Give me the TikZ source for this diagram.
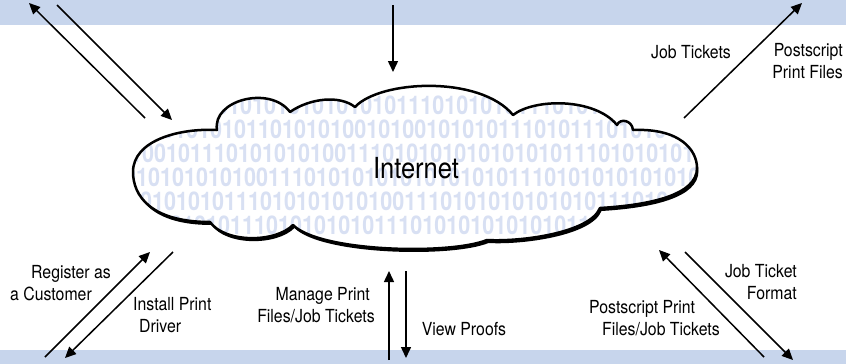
\documentclass[tikz,border=0pt]{standalone}
\usepackage{fontspec}
\setmainfont{TeX Gyre Heros}[FakeStretch=0.88]
\newfontfamily\digfont{TeX Gyre Heros}[FakeStretch=0.84]
\usetikzlibrary{arrows.meta}
\definecolor{band}{HTML}{C7D5EC}
\definecolor{digit}{HTML}{D8E0F3}
\def\cloudpath{(217,130) .. controls (212,100) and (270,85) .. (290,112)
  .. controls (310,98) and (340,95) .. (355,107)
  .. controls (380,80) and (480,75) .. (513,115)
  .. controls (535,98) and (595,98) .. (617,125)
  .. controls (620,118) and (632,120) .. (633,130)
  .. controls (680,128) and (697,150) .. (697,168)
  .. controls (697,195) and (650,205) .. (600,208)
  .. controls (590,233) and (520,242) .. (487,240)
  .. controls (450,255) and (320,252) .. (293,225)
  .. controls (275,243) and (225,243) .. (210,222)
  .. controls (150,222) and (133,195) .. (133,172)
  .. controls (133,140) and (180,128) .. (217,130) -- cycle}
\begin{document}
\begin{tikzpicture}[x=1pt,y=-1pt,
  flow/.style={line width=1.5pt, -{Triangle[length=11pt,width=10pt]}},
  lbl/.style={font=\fontsize{18}{22.5}\selectfont, inner sep=0pt},
  digits/.style={font=\digfont\bfseries\fontsize{25.7}{25.7}\selectfont, text=digit, inner sep=0pt, anchor=base west}]
\useasboundingbox (0,0) rectangle (846,364);
\fill[band] (0,0) rectangle (846,25);
\fill[band] (0,350) rectangle (846,364);
% cloud
\fill[black, shift={(1.5,3)}] \cloudpath;
\fill[white] \cloudpath;
\begin{scope}
\clip \cloudpath;
\node[digits] (r1) at (120,114) {0101011101010101010101011101010101110101010101010};
\node[digits] (r2) at (126,138) {1000101010110101010010100101010111010111010101010};
\node[digits] (r3) at (118,162) {0100101110101010100111010101010101010111010101010100};
\node[digits] (r4) at (124,186) {0101010101001110101010101010101011101010101010101110};
\node[digits] (r5) at (116,210) {0101010101110101010101001110101010101010111010101};
\node[digits] (r6) at (122,234) {0101010101110101010101110101010101010111010101010};
\end{scope}
\draw[line width=2.5pt, line join=round] \cloudpath;
\node[font=\fontsize{29}{29}\selectfont, inner sep=0pt] (inet) at (416,168) {Internet};
% arrow end points
\coordinate (a1s) at (145,118); \coordinate (a1e) at (29,3);
\coordinate (a2s) at (57,5);    \coordinate (a2e) at (172,120);
\coordinate (a3s) at (393,5);   \coordinate (a3e) at (393,72);
\coordinate (a4s) at (684,118); \coordinate (a4e) at (802,3);
\coordinate (b1s) at (45,357);  \coordinate (b1e) at (150,252);
\coordinate (b2s) at (173,252); \coordinate (b2e) at (65,358);
\coordinate (b3s) at (389,360); \coordinate (b3e) at (389,271);
\coordinate (b4s) at (406,271); \coordinate (b4e) at (406,358);
\coordinate (b5s) at (764,357); \coordinate (b5e) at (659,250);
\coordinate (b6s) at (685,252); \coordinate (b6e) at (793,360);
\foreach \p in {a1,a2,a3,a4,b1,b2,b3,b4,b5,b6}
  \draw[flow] (\p s) -- (\p e);
% labels
\node[lbl, anchor=center] (l1) at (691,52) {Job Tickets};
\node[lbl, anchor=east, align=right] (l2) at (843,61) {Postscript\\Print Files};
\node[lbl, anchor=west, align=left] (l3) at (10,283) {\hspace*{21pt}Register as\\a Customer};
\node[lbl, anchor=west, align=left] (l4) at (133,315) {Install Print\\\hspace*{6pt}Driver};
\node[lbl, anchor=east, align=right] (l5) at (375,305) {Manage Print\hspace*{5pt}\\Files/Job Tickets};
\node[lbl, anchor=center] (l6) at (464,329) {View Proofs};
\node[lbl, anchor=east, align=right] (l7) at (797,282) {Job Ticket\\Format};
\node[lbl, anchor=west, align=left] (l8) at (589,318) {Postscript Print\\\hspace*{13pt}Files/Job Tickets};
\end{tikzpicture}
\end{document}
